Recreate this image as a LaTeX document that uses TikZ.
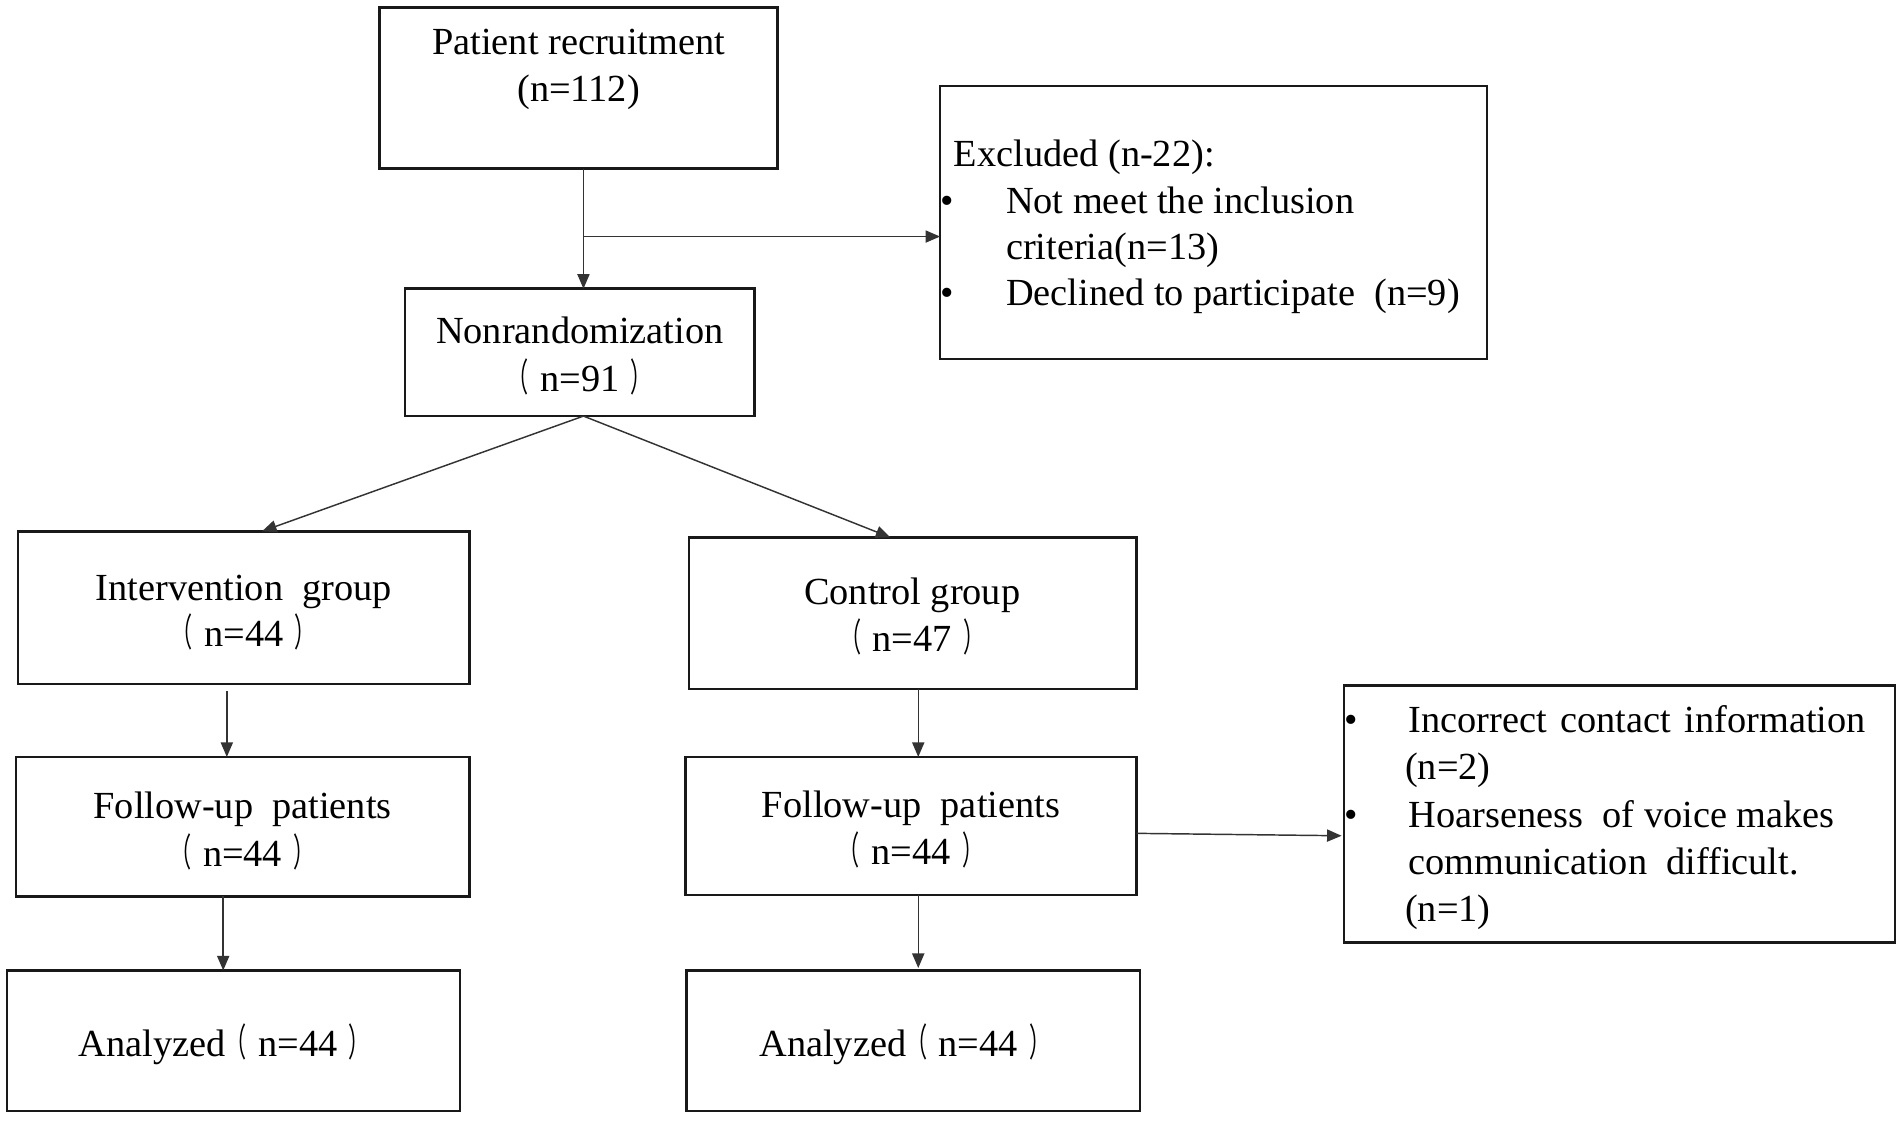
\documentclass[tikz,border=0pt]{standalone}
\usepackage{fontspec}
\setmainfont{Liberation Serif}
\newfontfamily\cjkparen[FakeStretch=0.55]{Noto Sans CJK SC}
\usetikzlibrary{arrows.meta}
\newcommand\lpar{{\cjkparen （}\hspace{0.3em}}
\newcommand\rpar{\hspace{0.3em}{\cjkparen ）}}
\begin{document}
\begin{tikzpicture}[x=0.5pt,y=-0.5pt,
  box/.style={draw=black!90,line width=1pt,rectangle,inner sep=0pt,outer sep=0pt},
  conn/.style={draw=black!80,line width=0.6pt,-{Triangle[length=6pt,width=5pt]}},
  txt/.style={inner sep=0pt,anchor=base,font=\fontsize{15.8}{19.5}\selectfont},
  ltxt/.style={txt,anchor=base west}]
\useasboundingbox (0,0) rectangle (1568,923.4);
% boxes
\node[box,minimum width=164pt,minimum height=66.5pt] (pr) at (477,72.5) {};
\node[box,minimum width=225.5pt,minimum height=112.5pt] (ex) at (1000.5,183.5) {};
\node[box,minimum width=144pt,minimum height=52.5pt] (nr) at (478,290.5) {};
\node[box,minimum width=186pt,minimum height=63pt] (ig) at (201,501) {};
\node[box,minimum width=184.5pt,minimum height=62.5pt] (cg) at (752.5,505.5) {};
\node[box,minimum width=187pt,minimum height=57.5pt] (fl) at (200,681.5) {};
\node[box,minimum width=186pt,minimum height=57pt] (fr) at (751,681) {};
\node[box,minimum width=227pt,minimum height=106pt] (lo) at (1335,671) {};
\node[box,minimum width=186.5pt,minimum height=58pt] (al) at (192.5,858) {};
\node[box,minimum width=187pt,minimum height=58pt] (ar) at (753,858) {};
% texts
\node[txt] (pr1) at (477,45) {Patient recruitment};
\node[txt] (pr2) at (477,84) {(n=112)};
\node[ltxt] (ex0) at (786,137) {Excluded (n-22):};
\node[ltxt] (exb1) at (775,176) {•};
\node[ltxt] (ex1) at (829,176) {Not meet the inclusion};
\node[ltxt] (ex2) at (829,214) {criteria(n=13)};
\node[ltxt] (exb2) at (775,252) {•};
\node[ltxt] (ex3) at (829,252) {Declined to participate\ \ (n=9)};
\node[txt] (nr1) at (478,283) {Nonrandomization};
\node[txt] (nr2) at (478,323) {\lpar n=91\rpar};
\node[txt] (ig1) at (201,495) {Intervention\ \ group};
\node[txt] (ig2) at (201,533) {\lpar n=44\rpar};
\node[txt] (cg1) at (752,498) {Control group};
\node[txt] (cg2) at (752,537) {\lpar n=47\rpar};
\node[txt] (fl1) at (200,675) {Follow-up\ \ patients};
\node[txt] (fl2) at (200,714) {\lpar n=44\rpar};
\node[txt] (fr1) at (751,674) {Follow-up\ \ patients};
\node[txt] (fr2) at (751,713) {\lpar n=44\rpar};
\node[txt] (al1) at (185,871) {Analyzed\lpar n=44\rpar};
\node[txt] (ar1) at (746,871) {Analyzed\lpar n=44\rpar};
\node[ltxt] (lob1) at (1108,604) {•};
\node[ltxt] (lo1) at (1161,604) {Incorrect\hspace{0.35em}contact\hspace{0.35em}information};
\node[ltxt] (lo2) at (1158,643) {(n=2)};
\node[ltxt] (lob2) at (1108,682) {•};
\node[ltxt] (lo3) at (1161,682) {Hoarseness\ \ of voice makes};
\node[ltxt] (lo4) at (1161,721) {communication\ \ difficult.};
\node[ltxt] (lo5) at (1158,760) {(n=1)};
% connectors
\coordinate (br) at (481,195);
\draw[conn] ([xshift=2pt]pr.south) -- ([xshift=1.5pt]nr.north);
\draw[conn] (br) -- (br -| ex.west);
\draw[conn] ([xshift=1.5pt]nr.south) -- ([xshift=7.5pt]ig.north);
\draw[conn] ([xshift=1.5pt]nr.south) -- ([xshift=-9.25pt]cg.north);
\draw[conn,shorten <=3pt] ([xshift=-7pt]ig.south) -- ([xshift=-6.5pt]fl.north);
\draw[conn] ([xshift=2.25pt]cg.south) -- ([xshift=3pt]fr.north);
\draw[conn] ([xshift=-8pt]fl.south) -- ([xshift=-4.25pt]al.north);
\draw[conn,shorten >=1pt] ([xshift=3pt]fr.south) -- ([xshift=2pt]ar.north);
\draw[conn,shorten >=1pt] ([yshift=-3pt]fr.east) -- ([yshift=-9pt]lo.west);
\end{tikzpicture}
\end{document}
